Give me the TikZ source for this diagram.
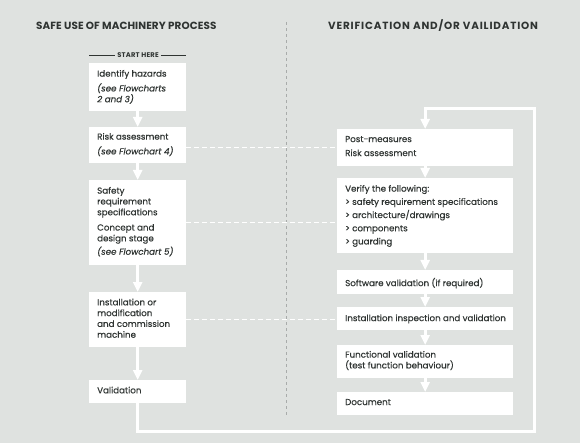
\documentclass[tikz,border=0pt]{standalone}
\usepackage{fontspec}
\setmainfont{Poppins}[FakeBold=0.35]
\newfontfamily\headf{Poppins}[LetterSpace=0.8]
\newfontfamily\headwf{Poppins}[LetterSpace=8]
\newfontfamily\starf{Poppins}[LetterSpace=3]
\usetikzlibrary{arrows.meta}
\definecolor{bg}{HTML}{DFE2E0}
\definecolor{ink}{HTML}{2F3432}
\definecolor{vline}{HTML}{A8ABAA}
\begin{document}
\begin{tikzpicture}[x=1pt,y=-1pt,
  box/.style={fill=white,draw=none,inner sep=0pt,anchor=north west},
  txt/.style={anchor=north west,inner sep=0pt,align=left,text=ink,font=\fontsize{8.7}{10.8}\selectfont},
  title/.style={anchor=west,inner sep=0pt,text=ink,font=\headf\fontsize{10.4}{12}\selectfont\bfseries},
  flow/.style={white,line width=3pt,-{Triangle[width=9pt,length=10pt]}},
  link/.style={white,line width=1pt,dash pattern=on 5pt off 3pt},
  divider/.style={vline,line width=0.8pt,dash pattern=on 3pt off 3pt}]
\fill[bg] (0,0) rectangle (580,443);
\useasboundingbox (0,0) rectangle (580,443);

% titles
\node[title] (t1) at (36,26) {SAFE USE OF MACHINERY PROCESS};
\node[title,font=\headwf\fontsize{10.4}{12}\selectfont\bfseries] (t2) at (328,26) {VERIFICATION AND/OR VAILIDATION};

% divider
\draw[divider] (286,22) -- (286,415);

% start here
\node[anchor=center,inner sep=2pt,text=ink,font=\starf\fontsize{6.8}{9}\selectfont\bfseries] (sh) at (138,55) {START HERE};
\coordinate (shl) at (89,55);
\coordinate (shr) at (186,55);
\draw[ink,line width=0.8pt] (shl) -- (sh.west);
\draw[ink,line width=0.8pt] (sh.east) -- (shr);

% left boxes
\node[box,minimum width=97pt,minimum height=48pt] (L1) at (89,63) {};
\node[box,minimum width=97pt,minimum height=36pt] (L2) at (89,127) {};
\node[box,minimum width=97pt,minimum height=85pt] (L3) at (89,180) {};
\node[box,minimum width=97pt,minimum height=55pt] (L4) at (89,292) {};
\node[box,minimum width=97pt,minimum height=23pt] (L5) at (89,380) {};

% right boxes
\node[box,minimum width=176pt,minimum height=37pt] (R1) at (337,129) {};
\node[box,minimum width=176pt,minimum height=75pt] (R2) at (337,178) {};
\node[box,minimum width=176pt,minimum height=24pt] (R3) at (337,270) {};
\node[box,minimum width=176pt,minimum height=23pt] (R4) at (337,307) {};
\node[box,minimum width=176pt,minimum height=33pt] (R5) at (337,345) {};
\node[box,minimum width=176pt,minimum height=23pt] (R6) at (337,392) {};

% left texts
\node[txt] (L1t) at (97,69.8) {Identify hazards\\[4pt]\textit{(see Flowcharts}\\\textit{2 and 3)}};
\node[txt] (L2t) at (97,132.8) {Risk assessment\\[4pt]\textit{(see Flowchart 4)}};
\node[txt] (L3t) at (97,186.8) {Safety\\requirement\\specifications\\[4.5pt]Concept and\\design stage\\[2.6pt]\textit{(see Flowchart 5)}};
\node[txt] (L4t) at (97,298.5) {Installation or\\modification\\and commission\\machine};
\node[txt] (L5t) at (97,386.5) {Validation};

% right texts
\node[txt] (R1t) at (345,135.8) {Post-measures\\[3.2pt]Risk assessment};
\node[txt] (R2t) at (345,184.8) {Verify the following:\\[2.4pt]> safety requirement specifications\\[2.4pt]> architecture/drawings\\[2.4pt]> components\\[2.4pt]> guarding};
\node[txt] (R3t) at (345,277.8) {Software validation (if required)};
\node[txt] (R4t) at (345,314.3) {Installation inspection and validation};
\node[txt] (R5t) at (345,350.8) {Functional validation\\(test function behaviour)};
\node[txt] (R6t) at (345,398.8) {Document};

% flow arrows
\draw[flow] (L1.south) -- (L2.north);
\draw[flow] (L2.south) -- (L3.north);
\draw[flow] (L3.south) -- (L4.north);
\draw[flow] (L4.south) -- (L5.north);
\draw[flow] (R1.south) -- (R2.north);
\draw[flow] (R2.south) -- (R3.north);
\draw[flow] (R3.south) -- (R4.north);
\draw[flow] (R4.south) -- (R5.north);
\draw[flow] (R5.south) -- (R6.north);

% loop back
\coordinate (c1) at (534,431);
\coordinate (c2) at (534,109);
\draw[flow] (L5.south) |- (c1) -- (c2) -| (R1.north);

% dashed links
\draw[link] (R1.west -| L2.east) -- (R1.west);
\draw[link] (L3.east) -- (L3.east -| R2.west);
\draw[link] (L4.east) -- (L4.east -| R4.west);
\end{tikzpicture}
\end{document}
